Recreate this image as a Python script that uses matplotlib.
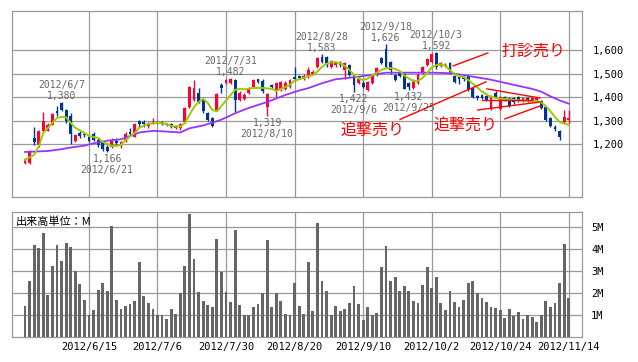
import matplotlib
matplotlib.use("Agg")
import matplotlib.pyplot as plt
import numpy as np

plt.rcParams['font.family'] = ['DejaVu Sans Mono', 'Noto Sans CJK JP']

# trading day index 0 = 2012/5/28, 119 = 2012/11/14
opens = [1122, 1122, 1228, 1195, 1255, 1258, 1283, 1342, 1376, 1345,
         1320, 1212, 1248, 1244, 1232, 1245, 1218, 1210, 1188, 1190,
         1215, 1192, 1212, 1252, 1232, 1297, 1296, 1276, 1288, 1296,
         1296, 1280, 1287, 1270, 1268, 1295, 1360, 1390, 1420, 1388,
         1333, 1310, 1346, 1452, 1462, 1462, 1474, 1390, 1392, 1420,
         1445, 1476, 1470, 1360, 1453, 1428, 1432, 1435, 1445, 1488,
         1490, 1478, 1487, 1500, 1530, 1572, 1572, 1530, 1538, 1547,
         1517, 1538, 1496, 1462, 1461, 1432, 1461, 1496, 1566, 1606,
         1551, 1496, 1504, 1500, 1461, 1440, 1461, 1504, 1538, 1551,
         1589, 1535, 1532, 1547, 1491, 1485, 1487, 1491, 1440, 1406,
         1410, 1406, 1350, 1419, 1352, 1400, 1398, 1395, 1400, 1385,
         1398, 1386, 1388, 1385, 1359, 1312, 1274, 1257, 1296, 1305]
closes = [1135, 1165, 1210, 1255, 1300, 1280, 1328, 1333, 1347, 1297,
          1245, 1240, 1237, 1238, 1215, 1218, 1195, 1178, 1172, 1218,
          1205, 1210, 1243, 1242, 1287, 1288, 1288, 1290, 1294, 1292,
          1288, 1288, 1272, 1276, 1287, 1355, 1444, 1440, 1382, 1340,
          1305, 1278, 1414, 1440, 1472, 1478, 1390, 1418, 1412, 1440,
          1474, 1465, 1425, 1414, 1446, 1460, 1465, 1460, 1474, 1476,
          1482, 1490, 1517, 1510, 1568, 1551, 1538, 1555, 1547, 1538,
          1545, 1496, 1453, 1478, 1446, 1466, 1496, 1525, 1547, 1530,
          1517, 1474, 1492, 1436, 1444, 1474, 1500, 1530, 1562, 1585,
          1530, 1545, 1538, 1508, 1466, 1478, 1476, 1432, 1402, 1395,
          1397, 1389, 1406, 1398, 1402, 1392, 1365, 1380, 1385, 1398,
          1385, 1398, 1395, 1355, 1304, 1276, 1264, 1232, 1316, 1312]
highs = [1142, 1175, 1274, 1262, 1338, 1290, 1335, 1365, 1380, 1352,
         1333, 1245, 1258, 1252, 1240, 1250, 1225, 1215, 1195, 1225,
         1228, 1215, 1250, 1270, 1290, 1305, 1305, 1296, 1310, 1298,
         1300, 1292, 1290, 1282, 1290, 1357, 1450, 1474, 1440, 1395,
         1338, 1314, 1418, 1460, 1478, 1482, 1480, 1425, 1420, 1445,
         1478, 1480, 1480, 1418, 1458, 1465, 1468, 1468, 1480, 1528,
         1495, 1500, 1530, 1515, 1572, 1583, 1576, 1560, 1552, 1555,
         1550, 1542, 1500, 1485, 1468, 1470, 1500, 1530, 1572, 1626,
         1555, 1500, 1508, 1505, 1466, 1478, 1505, 1535, 1566, 1589,
         1592, 1552, 1545, 1552, 1495, 1490, 1492, 1496, 1444, 1410,
         1415, 1410, 1410, 1425, 1406, 1404, 1402, 1400, 1404, 1402,
         1402, 1402, 1400, 1390, 1362, 1316, 1280, 1262, 1346, 1345]
lows = [1117, 1115, 1195, 1190, 1250, 1255, 1280, 1322, 1340, 1290,
        1200, 1208, 1228, 1230, 1208, 1212, 1190, 1172, 1166, 1183,
        1198, 1186, 1208, 1233, 1230, 1272, 1272, 1270, 1285, 1288,
        1282, 1276, 1268, 1265, 1262, 1290, 1355, 1385, 1375, 1335,
        1300, 1272, 1343, 1420, 1458, 1458, 1339, 1385, 1388, 1415,
        1440, 1460, 1418, 1319, 1435, 1400, 1428, 1430, 1440, 1468,
        1478, 1474, 1483, 1496, 1525, 1545, 1530, 1525, 1530, 1530,
        1478, 1490, 1422, 1455, 1440, 1428, 1455, 1490, 1542, 1525,
        1500, 1468, 1485, 1434, 1432, 1436, 1455, 1500, 1534, 1548,
        1520, 1530, 1528, 1500, 1460, 1455, 1470, 1425, 1398, 1390,
        1392, 1385, 1346, 1395, 1348, 1386, 1360, 1372, 1380, 1380,
        1380, 1382, 1385, 1350, 1300, 1272, 1258, 1218, 1292, 1290]
# volume, millions of shares
volume = [1.41, 2.55, 4.18, 4.08, 4.73, 1.91, 3.23, 4.18, 3.45, 4.27,
          4.09, 3.00, 2.41, 1.68, 1.00, 1.23, 2.14, 2.45, 2.09, 5.05,
          1.68, 1.27, 1.41, 1.50, 1.64, 3.41, 1.86, 1.55, 1.27, 1.00,
          1.00, 0.82, 1.27, 1.05, 2.00, 3.23, 5.59, 3.55, 2.05, 1.64,
          1.45, 1.36, 4.45, 2.95, 2.05, 1.59, 4.86, 1.45, 1.00, 1.00,
          1.36, 1.50, 2.00, 4.41, 1.36, 2.00, 1.64, 1.05, 1.00, 2.45,
          1.41, 1.05, 3.41, 1.18, 5.18, 2.55, 2.09, 1.00, 1.41, 1.18,
          1.27, 1.55, 2.32, 1.50, 0.77, 1.36, 1.00, 1.09, 3.18, 4.14,
          2.55, 2.73, 2.09, 2.32, 2.09, 1.64, 1.55, 2.36, 3.18, 2.23,
          2.73, 1.55, 1.23, 2.09, 1.59, 1.36, 1.68, 2.45, 2.55, 2.00,
          1.77, 1.59, 1.36, 1.32, 1.23, 0.86, 1.27, 0.95, 1.14, 0.82,
          1.00, 0.91, 0.68, 1.00, 1.64, 1.36, 1.55, 2.45, 4.23, 1.77]

# moving averages (day, value)
ma_short_days = [0, 2, 3, 4, 6, 7, 8, 9, 10, 11, 13, 14, 16, 17, 19, 20, 21, 22, 24, 25,
                 27, 29, 31, 32, 34, 35, 36, 37, 38, 39, 40, 41, 42, 43, 45, 46, 47, 48, 50, 52,
                 54, 55, 56, 58, 59, 61, 62, 63, 64, 65, 66, 67, 68, 69, 70, 71, 72, 73, 74, 75,
                 76, 77, 78, 79, 80, 81, 82, 83, 84, 85, 86, 87, 88, 89, 90, 91, 92, 93, 94, 95,
                 96, 97, 98, 99, 100, 101, 102, 104, 105, 107, 108, 110, 111, 112, 113, 114, 115, 116, 117, 119]
ma_short = [1133, 1155, 1189, 1248, 1291, 1312, 1316, 1315, 1291, 1270, 1248, 1235, 1227, 1210, 1193, 1193, 1197, 1218, 1248, 1270,
            1287, 1291, 1287, 1278, 1275, 1291, 1325, 1359, 1380, 1393, 1376, 1346, 1340, 1363, 1410, 1432, 1436, 1434, 1440, 1440,
            1436, 1427, 1436, 1453, 1471, 1483, 1491, 1494, 1510, 1530, 1543, 1549, 1550, 1544, 1534, 1517, 1496, 1480, 1474, 1480,
            1494, 1505, 1517, 1523, 1525, 1521, 1513, 1493, 1480, 1470, 1470, 1483, 1503, 1527, 1537, 1540, 1535, 1515, 1500, 1490,
            1486, 1474, 1458, 1442, 1425, 1413, 1402, 1394, 1393, 1389, 1387, 1386, 1385, 1383, 1378, 1362, 1340, 1316, 1295, 1282]
ma_long_days = [0, 5, 8, 10, 13, 15, 18, 21, 23, 25, 28, 31, 34, 36, 39, 41, 43, 46, 49, 53,
                57, 60, 62, 65, 68, 70, 73, 76, 79, 82, 86, 89, 93, 95, 98, 102, 107, 111, 113, 115, 117, 119]
ma_long = [1167, 1171, 1179, 1186, 1194, 1204, 1215, 1221, 1235, 1250, 1257, 1254, 1250, 1268, 1280, 1292, 1305, 1332, 1355, 1380,
           1410, 1429, 1439, 1460, 1477, 1481, 1488, 1496, 1505, 1505, 1505, 1505, 1503, 1498, 1488, 1475, 1453, 1436, 1424, 1404, 1387, 1373]

tick_days = [14, 29, 44, 59, 74, 89, 104, 119]
tick_labels = ["2012/6/15", "2012/7/6", "2012/7/30", "2012/8/20",
               "2012/9/10", "2012/10/2", "2012/10/24", "2012/11/14"]
price_ticks = [1200, 1300, 1400, 1500, 1600]
vol_ticks = [1, 2, 3, 4, 5]

peak_days = [8, 45, 65, 79, 90]
peak_dates = ["2012/6/7", "2012/7/31", "2012/8/28", "2012/9/18", "2012/10/3"]
trough_days = [18, 53, 72, 84]
trough_dates = ["2012/6/21", "2012/8/10", "2012/9/6", "2012/9/25"]

# hand drawn trend lines: (day0, price0, day1, price1)
trend_lines = [(93.7, 1534, 101.3, 1589),
               (82.1, 1306, 100.9, 1466),
               (101.1, 1436, 112.7, 1397),
               (100.0, 1389, 110.9, 1389),
               (99.1, 1346, 112.7, 1380),
               (105.0, 1308, 112.7, 1363)]
notes = ["打診売り", "追撃売り", "追撃売り"]
note_days = [111.2, 76.0, 96.5]
note_prices = [1596, 1255, 1276]

RED = "#ff0033"
BLUE = "#003399"
GRID = "#999999"

o, h, l, c = (np.array(a) for a in (opens, highs, lows, closes))
days = np.arange(len(c))
cols = np.where(c >= o, RED, BLUE)

fig = plt.figure(figsize=(6.38, 3.62), dpi=100)
ax = fig.add_axes([12/638, 1 - 197/362, 570/638, 186/362])
axv = fig.add_axes([12/638, 1 - 337/362, 570/638, 125/362])

# price panel
ax.vlines(days, l, h, colors=cols, lw=1, zorder=3)
ax.bar(days, np.maximum(np.abs(c - o), 3), bottom=np.minimum(o, c), width=0.62,
       color=cols, linewidth=0, zorder=3)
ax.plot(ma_long_days, ma_long, color="#9933ff", lw=1.3, zorder=4)
ax.plot(ma_short_days, ma_short, color="#99cc00", lw=1.4, zorder=4)

for x0, y0, x1, y1 in trend_lines:
    ax.plot([x0, x1], [y0, y1], color="#ff0000", lw=1, zorder=5)
for txt, x, y in zip(notes, note_days, note_prices):
    ax.text(x, y, txt, color="#ff0000", fontsize=11.5, family="Noto Sans CJK JP",
            ha="center", va="center", zorder=6)

for d, lab in zip(peak_days, peak_dates):
    ax.annotate(f"{h[d]:,}", xy=(d, h[d]), xytext=(0, 6), textcoords="offset pixels",
                ha="center", va="center", fontsize=7, color="#666666")
    ax.annotate(lab, xy=(d, h[d]), xytext=(0, 17), textcoords="offset pixels",
                ha="center", va="center", fontsize=7, color="#666666")
for d, lab in zip(trough_days, trough_dates):
    ax.annotate(f"{l[d]:,}", xy=(d, l[d]), xytext=(0, -7), textcoords="offset pixels",
                ha="center", va="center", fontsize=7, color="#666666")
    ax.annotate(lab, xy=(d, l[d]), xytext=(0, -18), textcoords="offset pixels",
                ha="center", va="center", fontsize=7, color="#666666")

ax.set_ylim(975, 1768)
ax.set_yticks(price_ticks)
ax.set_yticklabels([f"{p:,}" for p in price_ticks])
ax.yaxis.tick_right()
ax.tick_params(axis="y", length=0, pad=8, labelsize=7.5)
ax.tick_params(axis="x", length=0, labelbottom=False)

# volume panel
axv.bar(days, volume, width=0.62, color="#666666", linewidth=0, zorder=3)
axv.set_ylim(0, 5.7)
axv.set_yticks(vol_ticks)
axv.set_yticklabels([f"{v}M" for v in vol_ticks])
axv.yaxis.tick_right()
axv.tick_params(axis="y", length=0, pad=6.5, labelsize=7.5)
axv.tick_params(axis="x", length=0, pad=3.5, labelsize=7.5)
axv.text(0.007, 0.925, "出来高単位：M", transform=axv.transAxes, fontsize=8,
         family=["Noto Sans CJK JP", "DejaVu Sans"], ha="left", va="center", zorder=6)

for a in (ax, axv):
    a.set_xlim(-2.84, 121.9)
    a.set_xticks(tick_days)
    a.set_axisbelow(True)
    a.grid(True, color=GRID, lw=0.9)
    for s in a.spines.values():
        s.set_color(GRID)
        s.set_linewidth(0.9)
axv.set_xticklabels(tick_labels)

fig.savefig("out.png", dpi=100, facecolor="white")
